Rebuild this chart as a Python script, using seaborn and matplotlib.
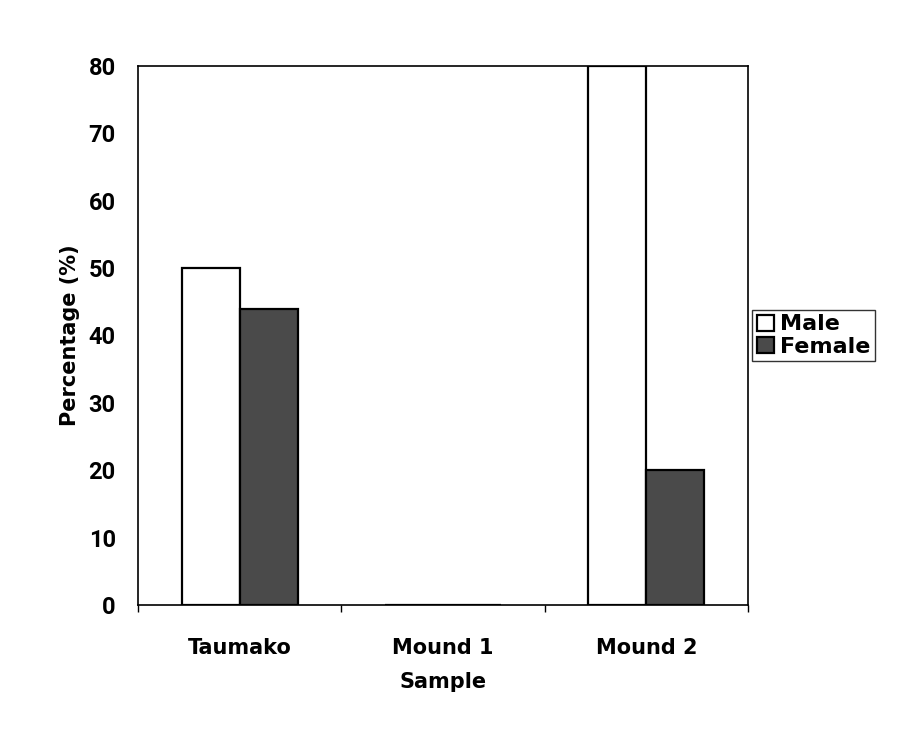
import matplotlib
matplotlib.use("Agg")
import matplotlib.pyplot as plt
import seaborn as sns
import pandas as pd
from matplotlib.ticker import FixedLocator

samples = ["Taumako", "Mound 1", "Mound 2"]
male = [50, 0, 80]
female = [44, 0, 20]
series = ["Male", "Female"]

df = pd.DataFrame({
    "Sample": samples * 2,
    "Sex": [series[0]] * len(samples) + [series[1]] * len(samples),
    "Percentage": male + female,
})

sns.set_theme(style="white")
plt.rcParams["font.family"] = ["Roboto", "DejaVu Sans"]
plt.rcParams["text.color"] = "black"
plt.rcParams["axes.labelcolor"] = "black"
plt.rcParams["xtick.color"] = "black"
plt.rcParams["ytick.color"] = "black"

fig = plt.figure(figsize=(9.05, 7.38), dpi=100)
ax = fig.add_axes([138 / 905, 1 - 605 / 738, (748 - 138) / 905, (605 - 66) / 738])

sns.barplot(data=df, x="Sample", y="Percentage", hue="Sex", order=samples,
            hue_order=series, palette={"Male": "white", "Female": "#4a4a4a"},
            width=0.57, edgecolor="black", linewidth=1.6, ax=ax, legend=True)

ax.set_xlim(-0.5, 2.5)
ax.set_ylim(0, 80)
ax.set_yticks(range(0, 81, 10))
ax.set_yticklabels([str(v) for v in range(0, 81, 10)], fontsize=17, fontweight="bold")
ax.tick_params(axis="y", length=0, pad=16)

ax.set_xticks(range(len(samples)))
ax.set_xticklabels(samples, fontsize=15, family="DejaVu Sans", fontweight="semibold")
ax.tick_params(axis="x", which="major", length=0, pad=24)
ax.xaxis.set_minor_locator(FixedLocator([-0.5, 0.5, 1.5, 2.5]))
ax.tick_params(axis="x", which="minor", length=5, width=1, color="black", direction="out", bottom=True)

for s in ax.spines.values():
    s.set_visible(True)
    s.set_color("black")
    s.set_linewidth(1.2)

ax.set_xlabel("Sample", fontsize=15, family="DejaVu Sans", fontweight="semibold", labelpad=10)
ax.set_ylabel("Percentage (%)", fontsize=15, family="DejaVu Sans", fontweight="semibold", labelpad=6)

leg = ax.legend(loc="center left", bbox_to_anchor=(1.0, 0.5), frameon=True, fancybox=False,
                prop={"family": "DejaVu Sans", "weight": "semibold", "size": 16},
                handlelength=0.75, handleheight=0.75, handletextpad=0.3, borderpad=0.2,
                labelspacing=0.1, borderaxespad=0.2)
leg.get_frame().set_edgecolor("black")
leg.get_frame().set_linewidth(1.0)

fig.savefig("out.png", dpi=100)
